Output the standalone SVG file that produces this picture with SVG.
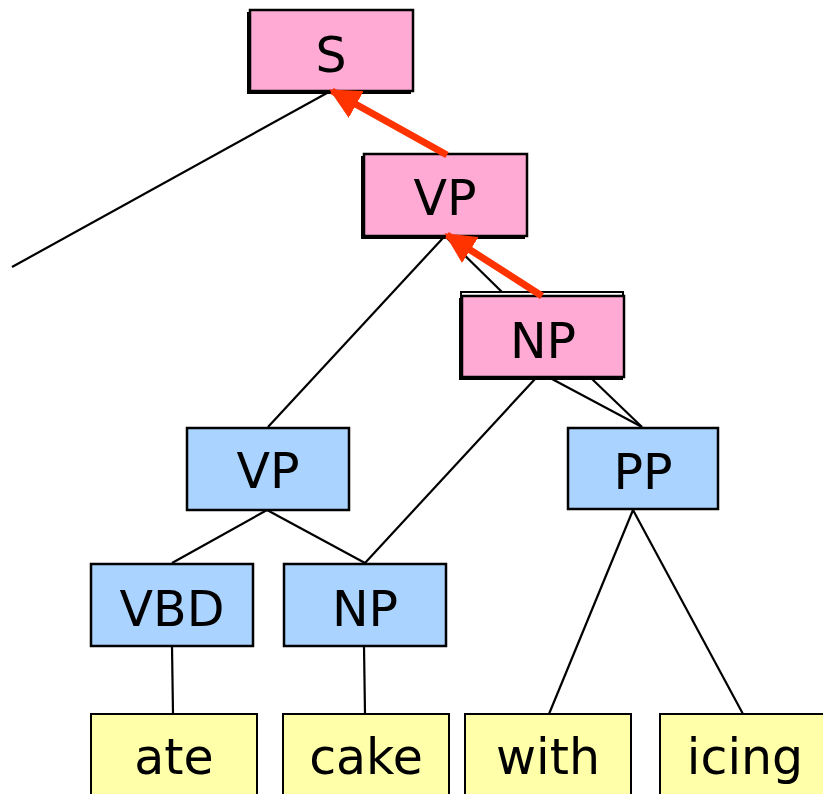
<svg xmlns="http://www.w3.org/2000/svg" width="823" height="794" viewBox="0 0 823 794">
  <style>
    .box { stroke: #000; stroke-width: 2.5; }
    .pink { fill: #ffaad4; }
    .blue { fill: #aad4ff; }
    .leaf { fill: #ffffaa; stroke: #000; stroke-width: 2; }
    .shadow { fill: #000; }
    .lbl { font-family: "DejaVu Sans", "Liberation Sans", sans-serif; font-size: 49px; fill: #000; text-anchor: middle; }
    .edge { stroke: #000; stroke-width: 2.2; fill: none; }
    .move { stroke: #ff3300; stroke-width: 7; fill: none; }
  </style>
  <defs>
    <marker id="head" viewBox="0 0 10 10" refX="9" refY="5" markerWidth="4.4" markerHeight="4.4" orient="auto" markerUnits="strokeWidth">
      <path d="M0,0 L10,5 L0,10 z" fill="#ff3300"/>
    </marker>
  </defs>

  <!-- tree edges -->
  <g id="connectors">
    <line class="edge" x1="327" y1="93" x2="12" y2="267"/>
    <line class="edge" x1="443" y1="238" x2="268" y2="427"/>
    <line class="edge" x1="447" y1="238" x2="502" y2="292"/>
    <line class="edge" x1="535" y1="379" x2="365" y2="563"/>
    <line class="edge" x1="552" y1="379" x2="642" y2="427"/>
    <line class="edge" x1="592" y1="379" x2="642" y2="427"/>
    <line class="edge" x1="267" y1="510" x2="172" y2="563"/>
    <line class="edge" x1="267" y1="510" x2="365" y2="563"/>
    <line class="edge" x1="172" y1="646" x2="173" y2="714"/>
    <line class="edge" x1="364" y1="646" x2="365" y2="714"/>
    <line class="edge" x1="633" y1="510" x2="549" y2="714"/>
    <line class="edge" x1="633" y1="510" x2="743" y2="714"/>
  </g>

  <!-- constituent nodes -->
  <g id="node-S">
    <rect class="shadow" x="247" y="12" width="164" height="82"/>
    <rect class="box pink" x="250" y="10" width="163" height="81"/>
    <text class="lbl" x="331" y="72">S</text>
  </g>
  <g id="node-VP-top">
    <rect class="shadow" x="361" y="156" width="164" height="83"/>
    <rect class="box pink" x="364" y="154" width="163" height="82"/>
    <text class="lbl" x="445" y="215">VP</text>
  </g>
  <g id="node-NP-top">
    <rect x="461" y="292" width="162" height="20" fill="#fff" stroke="#000" stroke-width="2"/>
    <rect class="shadow" x="459" y="298" width="164" height="82"/>
    <rect class="box pink" x="462" y="296" width="162" height="81"/>
    <text class="lbl" x="543" y="358">NP</text>
  </g>
  <g id="node-VP">
    <rect class="box blue" x="187" y="428" width="162" height="82"/>
    <text class="lbl" x="268" y="488">VP</text>
  </g>
  <g id="node-PP">
    <rect class="box blue" x="568" y="428" width="150" height="81"/>
    <text class="lbl" x="643" y="489">PP</text>
  </g>
  <g id="node-VBD">
    <rect class="box blue" x="91" y="564" width="162" height="82"/>
    <text class="lbl" x="172" y="626">VBD</text>
  </g>
  <g id="node-NP">
    <rect class="box blue" x="284" y="564" width="162" height="82"/>
    <text class="lbl" x="365" y="626">NP</text>
  </g>

  <!-- words -->
  <g id="word-ate">
    <rect class="leaf" x="91" y="714" width="166" height="90"/>
    <text class="lbl" x="174" y="774">ate</text>
  </g>
  <g id="word-cake">
    <rect class="leaf" x="283" y="714" width="166" height="90"/>
    <text class="lbl" x="366" y="774">cake</text>
  </g>
  <g id="word-with">
    <rect class="leaf" x="465" y="714" width="166" height="90"/>
    <text class="lbl" x="548" y="774">with</text>
  </g>
  <g id="word-icing">
    <rect class="leaf" x="660" y="714" width="170" height="90"/>
    <text class="lbl" x="745" y="774">icing</text>
  </g>

  <!-- head-movement arrows -->
  <g id="moves">
    <line class="move" x1="447" y1="155" x2="332" y2="91" marker-end="url(#head)"/>
    <line class="move" x1="542" y1="296" x2="447" y2="235" marker-end="url(#head)"/>
  </g>
</svg>
